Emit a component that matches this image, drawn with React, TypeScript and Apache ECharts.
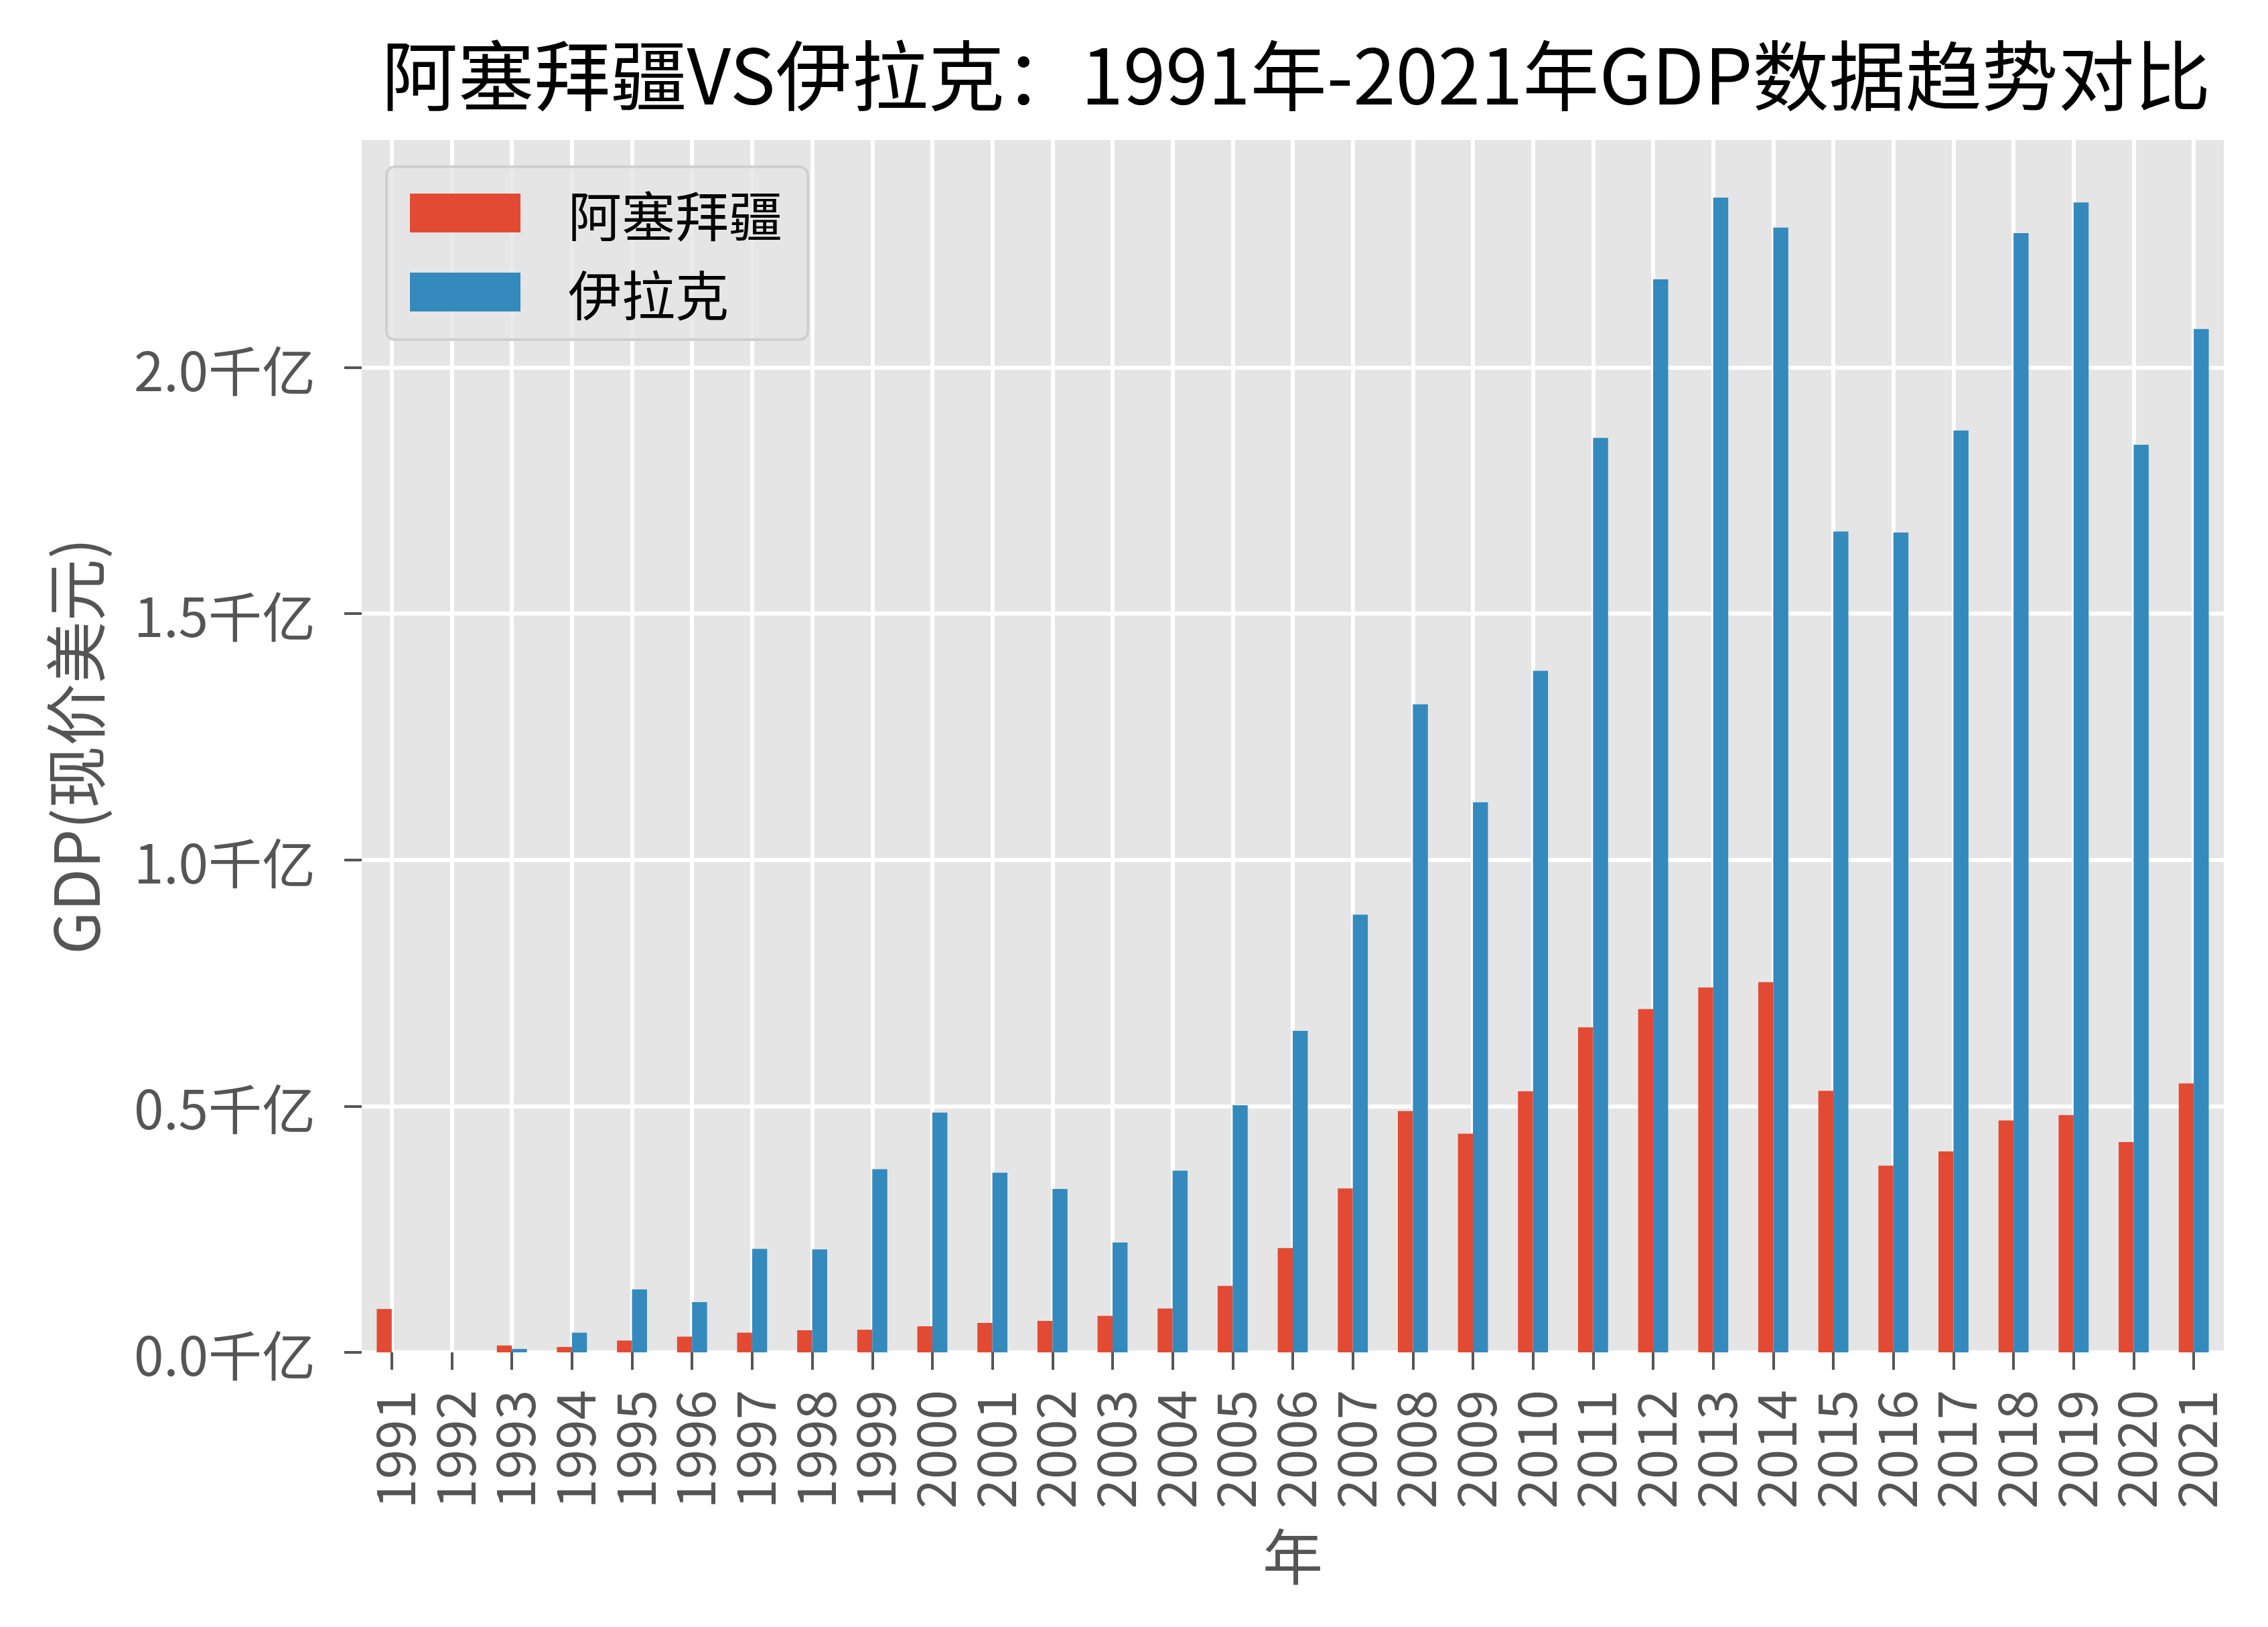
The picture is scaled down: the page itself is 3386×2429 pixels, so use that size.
import React, { useEffect, useRef } from 'react';
import * as echarts from 'echarts';

const years = [
  '1991', '1992', '1993', '1994', '1995', '1996', '1997', '1998', '1999', '2000',
  '2001', '2002', '2003', '2004', '2005', '2006', '2007', '2008', '2009', '2010',
  '2011', '2012', '2013', '2014', '2015', '2016', '2017', '2018', '2019', '2020', '2021',
];

// GDP in 千亿 (100 billion USD)
const azerbaijan: (number | null)[] = [
  0.088, null, 0.014, 0.011, 0.024, 0.032, 0.040, 0.045, 0.046, 0.053,
  0.060, 0.064, 0.074, 0.089, 0.135, 0.212, 0.333, 0.490, 0.444, 0.530,
  0.660, 0.697, 0.741, 0.752, 0.531, 0.379, 0.408, 0.471, 0.482, 0.427, 0.546,
];

const iraq: (number | null)[] = [
  null, null, 0.007, 0.040, 0.128, 0.102, 0.210, 0.209, 0.372, 0.487,
  0.365, 0.332, 0.223, 0.369, 0.502, 0.653, 0.889, 1.316, 1.117, 1.384,
  1.857, 2.179, 2.345, 2.284, 1.667, 1.665, 1.872, 2.273, 2.335, 1.843, 2.078,
];

const seriesNames = ['阿塞拜疆', '伊拉克'];
const yTickValues = [0, 0.5, 1.0, 1.5, 2.0];
const titleText = '阿塞拜疆VS伊拉克：1991年-2021年GDP数据趋势对比';
const yAxisTitle = 'GDP(现价美元)';
const xAxisTitle = '年';

const FONT = '"Noto Sans CJK SC", "Noto Sans", sans-serif';

export default function App() {
  const ref = useRef<HTMLDivElement>(null);

  useEffect(() => {
    document.body.style.margin = '0';
    if (!ref.current) return;
    const chart = echarts.init(ref.current, null, { renderer: 'svg' });
    chart.setOption({
      animation: false,
      backgroundColor: '#ffffff',
      textStyle: { fontFamily: FONT },
      title: {
        text: titleText,
        left: 1930,
        top: 44,
        textAlign: 'center',
        textStyle: { fontFamily: FONT, fontSize: 114, fontWeight: 'normal', color: '#000000' },
      },
      legend: {
        orient: 'vertical',
        left: 577,
        top: 249,
        padding: [24, 38, 26, 35],
        itemWidth: 165,
        itemHeight: 58,
        itemGap: 28,
        icon: 'rect',
        backgroundColor: 'rgba(229,229,229,0.8)',
        borderColor: '#cfcfcf',
        borderWidth: 4,
        borderRadius: 12,
        textStyle: {
          fontFamily: FONT,
          fontSize: 80,
          color: '#000000',
          lineHeight: 90,
          padding: [0, 0, 0, 66],
        },
        data: seriesNames,
      },
      grid: {
        left: 540,
        right: 66,
        top: 209,
        bottom: 410,
        show: true,
        backgroundColor: '#E5E5E5',
        borderWidth: 0,
      },
      xAxis: {
        type: 'category',
        data: years,
        boundaryGap: true,
        name: xAxisTitle,
        nameLocation: 'middle',
        nameGap: 255,
        nameTextStyle: { fontFamily: FONT, fontSize: 90, color: '#555555' },
        axisLine: { show: false },
        axisTick: {
          show: true,
          alignWithLabel: true,
          length: 26,
          lineStyle: { color: '#555555', width: 4 },
        },
        axisLabel: {
          rotate: 90,
          margin: 56,
          fontFamily: FONT,
          fontSize: 80,
          color: '#555555',
          interval: 0,
        },
        splitLine: {
          show: true,
          alignWithLabel: true,
          lineStyle: { color: '#ffffff', width: 6 },
        },
      },
      yAxis: {
        type: 'value',
        min: 0,
        max: 2.462,
        interval: 0.5,
        name: yAxisTitle,
        nameLocation: 'middle',
        nameGap: 385,
        nameRotate: 90,
        nameTextStyle: { fontFamily: FONT, fontSize: 93, color: '#555555' },
        axisLine: { show: false },
        axisTick: {
          show: true,
          length: 26,
          customValues: yTickValues,
          lineStyle: { color: '#555555', width: 4 },
        },
        axisLabel: {
          margin: 69,
          fontFamily: FONT,
          fontSize: 80,
          color: '#555555',
          customValues: yTickValues,
          formatter: (v: number) => v.toFixed(1) + '千亿',
        },
        splitLine: { show: true, lineStyle: { color: '#ffffff', width: 6 } },
      },
      series: [
        {
          name: seriesNames[0],
          type: 'bar',
          data: azerbaijan,
          barWidth: '25%',
          barGap: '0%',
          itemStyle: { color: '#E24A33' },
        },
        {
          name: seriesNames[1],
          type: 'bar',
          data: iraq,
          barWidth: '25%',
          barGap: '0%',
          itemStyle: { color: '#348ABD' },
        },
      ],
    });
    return () => chart.dispose();
  }, []);

  return <div ref={ref} style={{ width: 3386, height: 2429 }} />;
}
